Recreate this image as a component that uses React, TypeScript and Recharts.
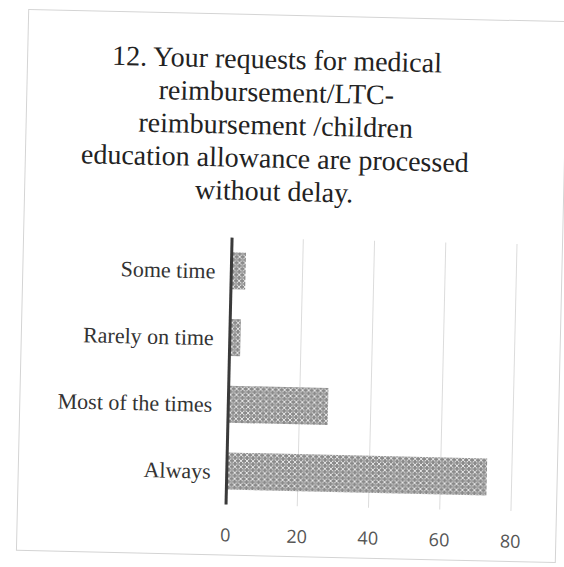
import React from 'react';
import { Bar, BarChart, CartesianGrid, XAxis, YAxis } from 'recharts';

const categories = ['Some time', 'Rarely on time', 'Most of the times', 'Always'];
const responses = [4, 3, 28, 73];
const xTicks = [0, 20, 40, 60, 80];

const titleLines = [
  '12. Your requests for medical',
  'reimbursement/LTC-',
  'reimbursement /children',
  'education allowance are processed',
  'without delay.',
];

const data = categories.map((name, i) => ({ name, value: responses[i] }));

export default function App() {
  return (
    <div style={{ position: 'absolute', left: 0, top: 0, width: 564, height: 567, background: '#fff', overflow: 'hidden' }}>
      <svg width={0} height={0} style={{ position: 'absolute' }}>
        <defs>
          <pattern id="hatch" width={6} height={6} patternUnits="userSpaceOnUse">
            <rect width={6} height={6} fill="#8a8a8a" />
            <path d="M0 0 L2 2 M4 2 L6 0 M0 6 L2 4 M4 4 L6 6" stroke="#e6e6e6" strokeWidth={1} />
            <path d="M3 1 L3 5 M1 3 L5 3" stroke="#bdbdbd" strokeWidth={0.8} />
          </pattern>
        </defs>
      </svg>
      <div
        style={{
          position: 'absolute',
          left: 22,
          top: 15,
          width: 538,
          height: 540,
          border: '1px solid #d4d4d4',
          transform: 'rotate(1.3deg)',
          transformOrigin: '50% 50%',
        }}
      >
        <div
          style={{
            position: 'absolute',
            left: -20,
            top: 27,
            width: 538,
            textAlign: 'center',
            fontFamily: '"Liberation Serif", serif',
            fontSize: 28,
            lineHeight: '33px',
            color: '#222',
          }}
        >
          {titleLines.map((t) => (
            <div key={t}>{t}</div>
          ))}
        </div>
        <div style={{ position: 'absolute', left: 0, top: 200 }}>
          <BarChart
            width={538}
            height={340}
            data={data}
            layout="vertical"
            barCategoryGap="22%"
            margin={{ top: 23, right: 45, left: 0, bottom: 20 }}
          >
            <CartesianGrid horizontal={false} stroke="#dcdcdc" />
            <XAxis
              type="number"
              domain={[0, 80]}
              ticks={xTicks}
              axisLine={false}
              tickLine={false}
              tickMargin={18}
              tick={{ fill: '#555', fontSize: 18, fontFamily: '"Open Sans", sans-serif' }}
            />
            <YAxis
              dataKey="name"
              type="category"
              width={208}
              axisLine={{ stroke: '#3a3a3a', strokeWidth: 3 }}
              tickLine={false}
              tickMargin={10}
              tick={{ fill: '#333', fontSize: 22, fontFamily: '"Liberation Serif", serif' }}
            />
            <Bar dataKey="value" fill="url(#hatch)" isAnimationActive={false} />
          </BarChart>
        </div>
      </div>
    </div>
  );
}
